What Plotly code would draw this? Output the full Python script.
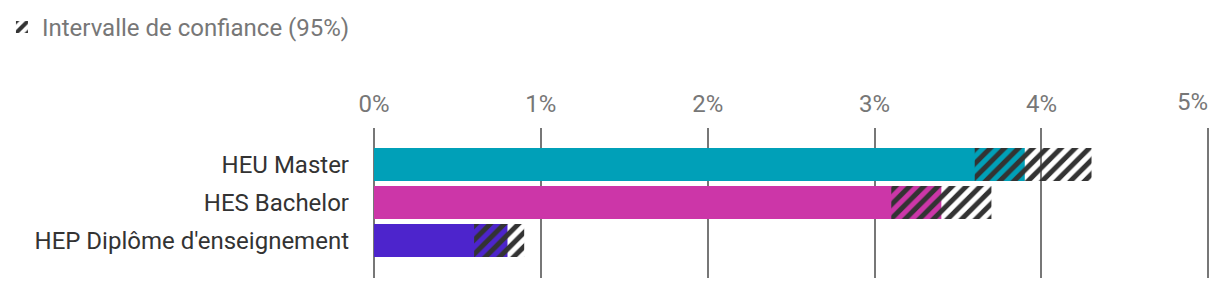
import plotly.graph_objects as go

categories = ["HEU Master", "HES Bachelor", "HEP Diplôme d'enseignement"]
values = [3.9, 3.4, 0.8]
ci_low = [3.6, 3.1, 0.6]
ci_high = [4.3, 3.7, 0.9]
colors = ["#00a0b8", "#cc36a8", "#4d24cc"]
tick_vals = [0, 1, 2, 3, 4, 5]
tick_text = ["0%", "1%", "2%", "3%", "4%", "5%"]
legend_label = "Intervalle de confiance (95%)"

fig = go.Figure()
fig.add_trace(go.Bar(
    y=categories, x=values, orientation="h",
    marker=dict(color=colors, line=dict(width=0)),
    width=0.87, showlegend=False, hoverinfo="skip",
))
fig.add_trace(go.Bar(
    y=categories, x=[h - l for l, h in zip(ci_low, ci_high)], base=ci_low,
    orientation="h", name=legend_label,
    marker=dict(color="rgba(0,0,0,0)", line=dict(width=0),
                pattern=dict(shape="/", fgcolor="#333333", bgcolor="rgba(0,0,0,0)",
                             fgopacity=1, size=10, solidity=0.5, fillmode="overlay")),
    width=0.87, showlegend=True,
))

# last tick label drawn right-aligned so it stays inside the chart
shown_text = tick_text[:-1] + [""]

fig.update_layout(
    width=1220, height=290,
    margin=dict(l=374, r=10, t=128, b=12, autoexpand=False),
    barmode="overlay",
    plot_bgcolor="white", paper_bgcolor="white",
    font=dict(family="Roboto", size=24, color="#333333"),
    legend=dict(x=0.0016, y=0.983, xref="container", yref="container",
                xanchor="left", yanchor="top", orientation="h",
                font=dict(size=24, color="#777777"),
                bgcolor="rgba(0,0,0,0)"),
    xaxis=dict(side="top", range=[0, 5.01], tickvals=tick_vals, ticktext=shown_text,
               automargin=False,
               showgrid=True, gridcolor="#777777", gridwidth=2,
               zeroline=True, zerolinecolor="#777777", zerolinewidth=2,
               showline=False, ticks="", ticklabelstandoff=10,
               tickfont=dict(size=24, color="#777777")),
    yaxis=dict(categoryorder="array", categoryarray=categories,
               automargin=False,
               range=[2.99, -0.96], showgrid=False, zeroline=False, showline=False,
               ticks="", ticklabelstandoff=24,
               tickfont=dict(size=24, color="#333333")),
    annotations=[dict(x=tick_vals[-1], y=1, xref="x", yref="paper",
                      text=tick_text[-1], showarrow=False,
                      xanchor="right", yanchor="bottom", yshift=10,
                      xshift=2,
                      font=dict(size=24, color="#777777"))],
)

fig.write_html("out.html")
